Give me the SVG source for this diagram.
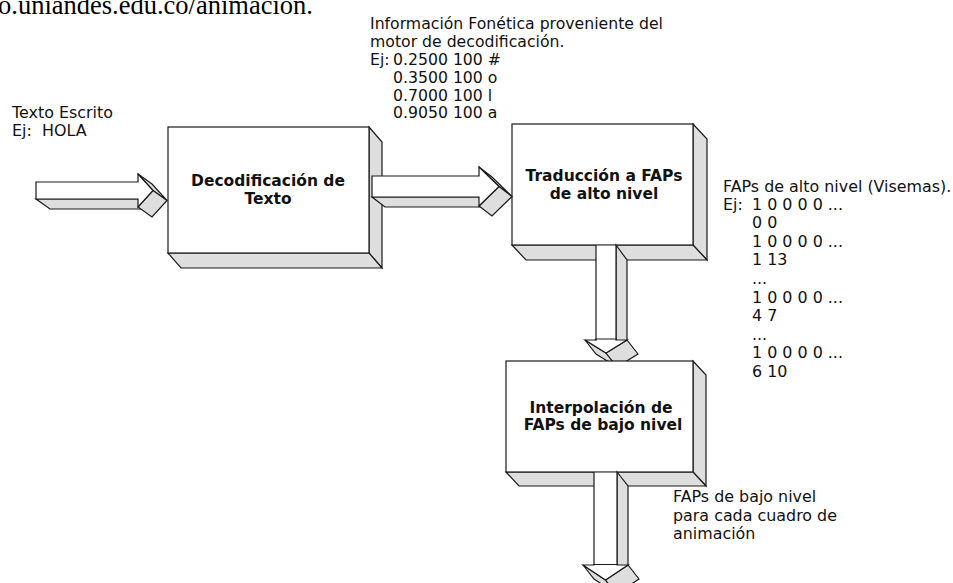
<svg xmlns="http://www.w3.org/2000/svg" width="953" height="583" viewBox="0 0 953 583">
<style>
.front{fill:#fff;stroke:#1a1a1a;stroke-width:1.2;stroke-linejoin:miter}
.shade{fill:#dedede;stroke:#1a1a1a;stroke-width:1.2;stroke-linejoin:miter}
.fill{fill:#fff;stroke:none}
.edge{stroke:#1a1a1a;stroke-width:1.2;fill:none}
.t{font-family:"DejaVu Sans",Verdana,sans-serif;font-size:15.9px;fill:#111}
.tt{font-family:"DejaVu Sans",Verdana,sans-serif;font-size:15.7px;fill:#111}
.b{font-family:"DejaVu Sans",Verdana,sans-serif;font-size:15.5px;font-weight:bold;fill:#111;text-anchor:middle}
.url{font-family:"Liberation Serif","Times New Roman",serif;font-size:26.5px;fill:#000}
</style>
<rect width="953" height="583" fill="#fff"/>
<text class="url" x="-2" y="14">o.uniandes.edu.co/animacion.</text>

<g id="box1">
  <polygon class="shade" points="369,127 382,142 382,268 369,253"/>
  <polygon class="shade" points="168,253 369,253 382,268 181,268"/>
  <rect class="front" x="168" y="127" width="201" height="126"/>
  <text class="b" x="268" y="186">Decodificación de</text>
  <text class="b" x="268" y="204">Texto</text>
</g>

<g id="box2">
  <polygon class="shade" points="693,124 707,139 707,260 693,245"/>
  <polygon class="shade" points="512,245 693,245 707,260 526,260"/>
  <rect class="front" x="512" y="124" width="181" height="121"/>
  <text class="b" x="604" y="181">Traducción a FAPs</text>
  <text class="b" x="604" y="199">de alto nivel</text>
</g>

<g id="connectors">
  <g id="arrow-in">
    <polygon class="shade" points="36,199 138,199 152,209 50,209"/>
    <polygon class="shade" points="138,174 152,184 167,200.5 153,190.5"/>
    <polygon class="shade" points="153,190.5 167,200.5 152,217 138,207"/>
    <polygon class="front" points="36,182 138,182 138,174 153,190.5 138,207 138,199 36,199"/>
  </g>
  <g id="arrow-1-2">
    <polygon class="shade" points="372,197 479,197 492,207 385,207"/>
    <polygon class="shade" points="479,167 492,177 512,196.5 499,186.5"/>
    <polygon class="shade" points="499,186.5 512,196.5 492,216 479,206"/>
    <polygon class="front" points="372,176 479,176 479,167 499,186.5 479,206 479,197 372,197"/>
  </g>
  <g id="arrow-2-3">
    <polygon class="shade" points="616,245 627,260 627,354 616,340"/>
    <rect class="fill" x="596" y="245.6" width="20" height="95"/>
    <line class="edge" x1="596" y1="245" x2="596" y2="340"/>
    <line class="edge" x1="616" y1="245" x2="616" y2="340"/>
    <polygon class="shade" points="585,340 606,353 617,367 596,354"/>
    <polygon class="shade" points="606,353 627,340 638,354 617,367"/>
    <polygon class="front" points="585,340 596,340 596,339 616,339 616,340 627,340 606,353"/>
    <line class="edge" x1="596" y1="339.4" x2="596" y2="340.6"/>
  </g>
</g>

<g id="box3">
  <polygon class="shade" points="693,361 706,375 706,486 693,472"/>
  <polygon class="shade" points="506,472 693,472 706,486 519,486"/>
  <rect class="front" x="506" y="361" width="187" height="111"/>
  <text class="b" x="601" y="413">Interpolación de</text>
  <text class="b" x="603" y="430">FAPs de bajo nivel</text>
</g>

<g id="connectors-out">
  <g id="arrow-out">
    <polygon class="shade" points="617,472 628,486 628,579 617,565"/>
    <rect class="fill" x="594" y="472.6" width="23" height="93"/>
    <line class="edge" x1="594" y1="472" x2="594" y2="565"/>
    <line class="edge" x1="617" y1="472" x2="617" y2="565"/>
    <polygon class="shade" points="583,565 605.5,580 616.5,594 594,579"/>
    <polygon class="shade" points="605.5,580 628,565 639,579 616.5,594"/>
    <polygon class="front" points="583,565 594,565 594,564.5 617,564.5 617,565 628,565 605.5,580"/>
  </g>
</g>

<g id="notes">
  <text class="t" x="12" y="118">Texto Escrito</text>
  <text class="t" x="12" y="136">Ej:<tspan x="42">HOLA</tspan></text>

  <text class="tt" x="370" y="29">Información Fonética proveniente del</text>
  <text class="tt" x="370" y="47">motor de decodificación.</text>
  <text class="tt" x="370" y="65">Ej:<tspan x="393">0.2500 100 #</tspan></text>
  <text class="tt" x="393" y="83">0.3500 100 o</text>
  <text class="tt" x="393" y="100.5">0.7000 100 l</text>
  <text class="tt" x="393" y="118">0.9050 100 a</text>

  <text class="t" x="723" y="192">FAPs de alto nivel (Visemas).</text>
  <text class="t" x="723" y="210">Ej:<tspan x="752">1 0 0 0 0 ...</tspan></text>
  <text class="t" x="752" y="228">0 0</text>
  <text class="t" x="752" y="247">1 0 0 0 0 ...</text>
  <text class="t" x="752" y="265">1 13</text>
  <text class="t" x="752" y="284">...</text>
  <text class="t" x="752" y="303">1 0 0 0 0 ...</text>
  <text class="t" x="752" y="321">4 7</text>
  <text class="t" x="752" y="340">...</text>
  <text class="t" x="752" y="358">1 0 0 0 0 ...</text>
  <text class="t" x="752" y="377">6 10</text>

  <text class="t" x="673" y="502">FAPs de bajo nivel</text>
  <text class="t" x="673" y="521">para cada cuadro de</text>
  <text class="t" x="673" y="539">animación</text>
</g>
</svg>
